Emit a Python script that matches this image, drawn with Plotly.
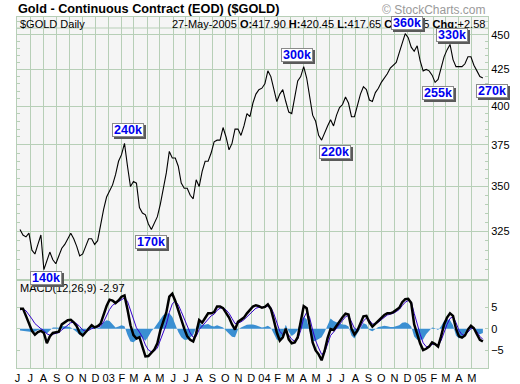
import math
import pandas as pd
import plotly.graph_objects as go

# ---------------- data (weekly readings from the chart) ----------------
dates = pd.date_range("2002-06-07", periods=156, freq="7D")

price = [
    326, 323, 322, 324, 315, 313, 318, 323, 305, 309, 314, 310, 308, 312, 316, 318,
    321, 324, 321, 317, 312, 313, 317, 321, 321, 318, 320, 329, 337, 344, 348, 351,
    357, 365, 369, 376, 362, 350, 353, 352, 338, 335, 334, 329, 326, 330, 333, 340,
    349, 358, 371, 367, 367, 362, 352, 349, 349, 345, 343, 354, 350, 359, 365, 365,
    370, 377, 378, 378, 386, 380, 372, 376, 385, 385, 381, 387, 395, 393, 402, 408,
    411, 412, 415, 424, 420, 411, 403, 408, 411, 403, 396, 395, 405, 417, 420, 427,
    419, 405, 394, 390, 381, 378, 383, 387, 391, 387, 394, 399, 401, 406, 402, 393,
    393, 401, 408, 413, 411, 404, 403, 409, 412, 416, 419, 422, 426, 428, 430, 437,
    444, 451, 448, 441, 438, 442, 431, 424, 425, 424, 421, 416, 418, 427, 434, 439,
    443, 432, 427, 427, 427, 429, 434, 434, 428, 424, 420, 419,
]

macd = [
    4.7, 4.7, 3.0, 1.0, -0.5, -1.4, -0.8, -0.5, -1.0, -3.4, -1.8, -1.0, -0.8, -0.7, 1.0, 1.4,
    2.0, 2.1, 1.5, 0.6, -1.0, -1.6, -0.8, 0.2, 0.8, 0.3, 0.6, 1.2, 3.5, 5.3, 6.8, 6.6,
    6.0, 6.6, 7.5, 7.8, 4.5, 0.8, -1.5, -2.3, -2.0, -4.5, -6.5, -6.4, -5.6, -4.9, -3.4, -0.4,
    1.7, 3.8, 7.5, 8.2, 6.5, 4.3, 2.0, 0.0, -1.8, -2.6, -3.0, -1.1, 2.0, 1.4, 2.5, 3.6,
    3.6, 3.9, 5.2, 5.2, 4.8, 3.8, 2.6, 1.0, -0.2, 1.6, 2.0, 2.6, 3.6, 4.5, 5.2, 5.5,
    5.3, 4.9, 5.1, 5.7, 4.6, 2.0, -0.9, -2.8, -2.0, 0.0, -2.5, -3.4, -3.2, -2.0, 1.8, 5.3,
    4.8, 1.0, -3.2, -5.1, -6.0, -7.4, -5.2, -2.2, -0.1, -0.3, 0.8, 1.8, 2.7, 3.5, 3.3, 0.0,
    -1.4, -0.4, 1.1, 2.9, 3.0, 1.5, 0.5, 1.2, 1.8, 2.5, 3.2, 3.6, 3.6, 3.9, 4.4, 4.9,
    6.2, 6.9, 7.0, 6.0, 1.0, -1.5, -3.5, -5.0, -4.7, -4.2, -3.2, -3.6, -4.2, -1.8, 1.0, 2.6,
    3.6, 3.0, 0.0, -1.8, -2.1, -1.6, -0.2, 0.7, 0.1, -1.3, -2.6, -3.0,
]

signal = [
    4.4, 4.6, 4.2, 3.3, 2.3, 1.2, 0.5, 0.0, -0.4, -1.2, -1.5, -1.3, -1.1, -0.9, -0.3, 0.3,
    0.9, 1.4, 1.5, 1.2, 0.5, -0.3, -0.6, -0.4, 0.0, 0.2, 0.3, 0.6, 1.6, 3.0, 4.5, 5.5,
    5.9, 6.2, 6.7, 7.2, 6.4, 4.3, 2.0, 0.2, -0.8, -2.0, -3.8, -5.0, -5.4, -5.2, -4.5, -2.8,
    -0.8, 1.0, 3.8, 5.8, 6.5, 5.6, 4.0, 2.2, 0.4, -1.0, -2.0, -1.8, -0.2, 0.6, 1.4, 2.4,
    3.0, 3.4, 4.3, 4.8, 4.9, 4.4, 3.6, 2.4, 1.2, 1.3, 1.6, 2.1, 2.8, 3.6, 4.3, 4.8,
    5.0, 5.0, 5.0, 5.3, 5.0, 3.5, 1.3, -0.6, -1.4, -0.8, -1.5, -2.5, -2.9, -2.4, -0.4, 2.5,
    3.8, 2.6, -0.3, -2.8, -4.5, -6.0, -5.6, -3.6, -1.6, -0.8, 0.0, 1.0, 1.9, 2.8, 3.1, 1.6,
    0.1, -0.3, 0.4, 1.8, 2.5, 2.0, 1.1, 1.1, 1.5, 2.1, 2.7, 3.2, 3.4, 3.6, 4.0, 4.5,
    5.4, 6.2, 6.6, 6.3, 3.6, 1.0, -1.3, -3.3, -4.2, -4.2, -3.7, -3.6, -3.9, -2.8, -0.8, 1.0,
    2.4, 2.8, 1.4, -0.4, -1.4, -1.5, -0.8, 0.0, 0.1, -0.7, -1.8, -2.5,
]

hist = [
    -0.4, -0.5, -0.6, -0.8, -0.8, -0.7, -0.3, -0.2, -0.8, -1.1, -0.3, 0.3, 0.3, 0.2, 0.6, 0.6,
    0.5, 0.3, -0.2, -0.8, -1.5, -1.2, -0.3, 0.4, 0.5, 0.1, 0.1, 0.4, 1.5, 2.0, 1.8, 1.0,
    0.3, 0.5, 0.8, 0.6, -1.5, -3.0, -3.2, -2.6, -1.7, -2.2, -2.8, -1.8, -0.6, 0.2, 1.2, 2.5,
    3.2, 3.5, 3.6, 2.8, 1.0, -0.8, -2.0, -2.6, -2.6, -2.0, -1.5, 0.3, 1.5, 0.8, 0.9, 1.1,
    0.7, 0.5, 0.8, 0.6, 0.3, -0.5, -1.2, -1.9, -2.0, -0.2, 0.3, 0.6, 0.9, 1.0, 1.0, 0.8,
    0.5, 0.3, 0.4, 0.7, 0.2, -1.2, -2.6, -2.8, -1.2, 0.9, -0.7, -1.7, -1.2, -0.3, 1.8, 2.8,
    2.2, -0.6, -3.0, -2.8, -2.4, -2.0, -0.8, 1.0, 2.4, 1.8, 1.4, 1.2, 1.0, 0.9, 0.5, -1.6,
    -2.3, -1.0, 0.2, 1.3, 1.0, -0.3, -0.6, 0.0, 0.4, 0.5, 0.7, 0.6, 0.4, 0.4, 0.6, 0.8,
    1.4, 1.5, 1.2, 0.5, -1.8, -2.6, -2.6, -2.5, -1.3, -0.4, 0.3, 0.1, -0.3, 0.6, 1.8, 2.2,
    2.0, 0.8, -1.6, -2.3, -1.8, -1.0, 0.3, 0.6, -0.2, -1.0, -1.3, -1.0,
]

month_ticks = pd.date_range("2002-06-01", "2005-05-01", freq="MS")
month_labels = ["J", "J", "A", "S", "O", "N", "D",
                "03", "F", "M", "A", "M", "J", "J", "A", "S", "O", "N", "D",
                "04", "F", "M", "A", "M", "J", "J", "A", "S", "O", "N", "D",
                "05", "F", "M", "A", "M"]

price_ticks = [325, 350, 375, 400, 425, 450]
price_minor = [v for v in range(305, 465, 5) if v not in price_ticks]
macd_ticks = [-5, 0, 5]

# labelled turning points: (text, index into weekly series, xshift, yshift)
callouts = [
    ("140k", 8, 2, -8),
    ("240k", 35, 3, 13),
    ("170k", 44, 0, -13),
    ("300k", 95, -7, 12),
    ("220k", 101, 13, -12),
    ("360k", 129, 2, 11),
    ("255k", 139, 3, -11),
    ("330k", 144, 2, 9),
    ("270k", 155, 9, -13),
]

# ---------------- figure ----------------
GRID = "#b7cfb7"
FONT = "Liberation Sans, Arial, sans-serif"

fig = go.Figure()
fig.add_trace(go.Scatter(x=dates, y=price, mode="lines",
                         line=dict(color="black", width=1.1), xaxis="x", yaxis="y"))
fig.add_trace(go.Scatter(x=dates, y=hist, mode="lines", fill="tozeroy",
                         line=dict(color="#3a8fd2", width=0), fillcolor="#3a8fd2",
                         xaxis="x2", yaxis="y2"))
fig.add_trace(go.Scatter(x=dates, y=signal, mode="lines",
                         line=dict(color="#3300cc", width=1), xaxis="x2", yaxis="y2"))
fig.add_trace(go.Scatter(x=dates, y=macd, mode="lines",
                         line=dict(color="black", width=2.5), xaxis="x2", yaxis="y2"))

xrange = ["2002-05-31", "2005-06-08"]
common_x = dict(range=xrange, tickmode="array", tickvals=month_ticks, showgrid=True,
                gridcolor=GRID, gridwidth=1, showline=True, linecolor=GRID, linewidth=1,
                mirror=True, ticks="", zeroline=False, automargin=False)

fig.update_layout(
    width=520, height=384,
    margin=dict(l=17, r=32, t=17, b=16, autoexpand=False),
    paper_bgcolor="white", plot_bgcolor="#f5f5f5",
    showlegend=False,
    font=dict(family=FONT, size=11, color="black"),
    xaxis=dict(domain=[0, 1], anchor="y", showticklabels=False, **common_x),
    xaxis2=dict(domain=[0, 1], anchor="y2", matches="x", showticklabels=True,
                ticktext=month_labels, tickfont=dict(size=11), **common_x),
    yaxis=dict(domain=[0.2536, 1], anchor="x", type="log",
               range=[math.log10(300.3), math.log10(463.6)],
               side="right", tickmode="array", tickvals=price_ticks,
               ticktext=[str(v) for v in price_ticks], tickfont=dict(size=11),
               showgrid=True, gridcolor=GRID, showline=True, linecolor=GRID,
               mirror="allticks", ticks="inside", ticklen=0, tickcolor=GRID,
               minor=dict(tickvals=price_minor, ticks="inside", ticklen=3,
                          tickcolor=GRID, showgrid=False),
               zeroline=False, automargin=False),
    yaxis2=dict(domain=[0, 0.2479], anchor="x2", range=[-9.2, 11.17],
                side="right", tickmode="array", tickvals=macd_ticks,
                tickfont=dict(size=11), showgrid=False, showline=True,
                linecolor=GRID, mirror="allticks", ticks="inside", ticklen=3,
                tickcolor=GRID, zeroline=False, automargin=False),
)

ann = []
ann.append(dict(text="<b>Gold - Continuous Contract (EOD) ($GOLD)</b>", xref="paper", yref="paper",
                x=0, y=1, xshift=-1, yshift=17, xanchor="left", yanchor="top",
                showarrow=False, font=dict(size=12.7, family=FONT)))
ann.append(dict(text="© StockCharts.com", xref="paper", yref="paper",
                x=1, y=1, yshift=16, xanchor="right", yanchor="top",
                showarrow=False, font=dict(size=12, color="#9a9a9a", family=FONT)))
ann.append(dict(text="$GOLD Daily", xref="paper", yref="paper",
                x=0, y=1, xshift=1, yshift=1, xanchor="left", yanchor="top",
                showarrow=False, font=dict(size=11, family=FONT)))
ann.append(dict(text="27-May-2005 <b>O:</b>417.90 <b>H:</b>420.45 <b>L:</b>417.65 "
                     "<b>C:</b>420.35 <b>Chg:</b>+2.58",
                xref="paper", yref="paper", x=1, y=1, xshift=-1, yshift=1,
                xanchor="right", yanchor="top", showarrow=False,
                font=dict(size=11, family=FONT)))
ann.append(dict(text="MACD(12,26,9) -2.97", xref="paper", yref="paper",
                x=0, y=0.2479, xshift=1, yshift=1, xanchor="left", yanchor="top",
                showarrow=False, font=dict(size=11, family=FONT)))

BW, BH = 32, 14
for text, idx, dx, dy in callouts:
    xv = dates[idx].strftime("%Y-%m-%d")
    yv = math.log10(price[idx])
    # drop shadow (right / bottom), an empty box drawn first
    ann.append(dict(text="\u00a0", x=xv, y=yv, xref="x", yref="y",
                    xshift=dx + 2, yshift=dy - 2, showarrow=False,
                    width=BW - 4, height=BH - 4,
                    font=dict(size=12.5, color="#5a5a5a", family=FONT),
                    bgcolor="#5a5a5a", bordercolor="#5a5a5a", borderwidth=1, borderpad=1))
    ann.append(dict(text=f"<b>{text}</b>", x=xv, y=yv, xref="x", yref="y",
                    xshift=dx, yshift=dy, showarrow=False,
                    width=BW - 4, height=BH - 4,
                    font=dict(size=12.5, color="#0000ee", family=FONT),
                    bgcolor="white", bordercolor="#8a8a8a", borderwidth=1, borderpad=1))

fig.update_layout(annotations=ann)

# header separator line in the price panel
fig.add_shape(type="line", xref="paper", yref="paper", x0=0, x1=1,
              y0=(368 - 28) / 351, y1=(368 - 28) / 351,
              line=dict(color=GRID, width=1))

fig.write_html("out.html", config={"displayModeBar": False},
               post_script="document.body.style.margin='0px';")
